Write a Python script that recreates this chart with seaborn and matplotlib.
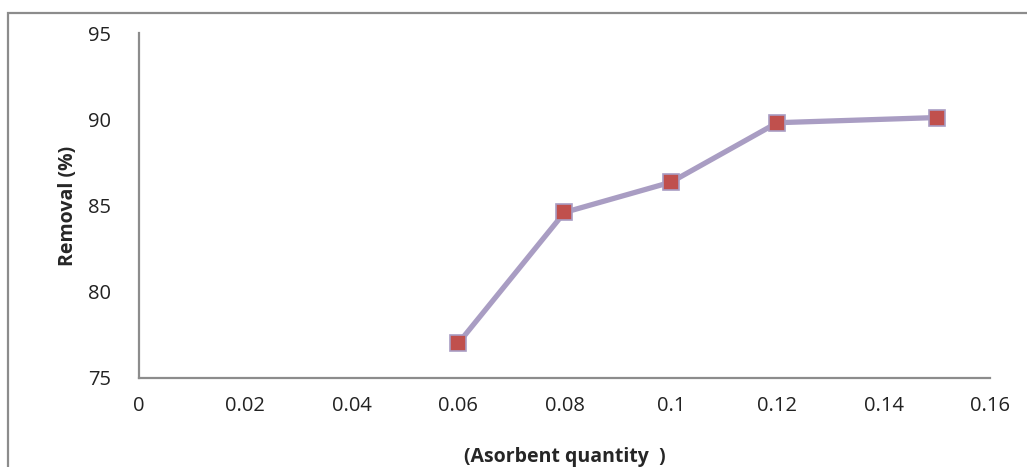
import matplotlib
matplotlib.use("Agg")
import matplotlib.pyplot as plt
import seaborn as sns
import pandas as pd
from matplotlib.patches import Rectangle

quantity = [0.06, 0.08, 0.10, 0.12, 0.15]
removal = [77.0, 84.6, 86.35, 89.8, 90.1]
x_ticks = [0, 0.02, 0.04, 0.06, 0.08, 0.1, 0.12, 0.14, 0.16]
x_tick_labels = ["0", "0.02", "0.04", "0.06", "0.08", "0.1", "0.12", "0.14", "0.16"]
y_ticks = [75, 80, 85, 90, 95]

df = pd.DataFrame({"quantity": quantity, "removal": removal})

sns.set_style("white")
plt.rcParams['font.family'] = ['Open Sans', 'DejaVu Sans']

fig = plt.figure(figsize=(10.27, 4.67), dpi=100)
ax = fig.add_axes([0.1353, 0.1906, 0.964 - 0.1353, 0.9293 - 0.1906])

sns.lineplot(data=df, x="quantity", y="removal", ax=ax, color="#A99DC3",
             linewidth=3.8, marker="s", markersize=12, markerfacecolor="#C0504D",
             markeredgecolor="#A99DC3", markeredgewidth=1.2)

ax.set_xlim(0, 0.16)
ax.set_ylim(75, 95)
ax.set_xticks(x_ticks)
ax.set_xticklabels(x_tick_labels)
ax.set_yticks(y_ticks)
ax.tick_params(axis="both", length=0, labelsize=14.5, colors="#222222")
ax.tick_params(axis="x", pad=13)
ax.tick_params(axis="y", pad=20)

for s in ["top", "right"]:
    ax.spines[s].set_visible(False)
for s in ["left", "bottom"]:
    ax.spines[s].set_color("#8C8C8C")
    ax.spines[s].set_linewidth(1.6)

ax.set_xlabel("(Asorbent quantity  )", fontsize=14, fontweight="bold", labelpad=22)
ax.set_ylabel("Removal (%)", fontsize=14, fontweight="bold", labelpad=7)

fig.patches.append(Rectangle((8 / 1027, -0.1), 1.2, 1 - 13 / 467 + 0.1,
                             transform=fig.transFigure, fill=False,
                             edgecolor="#8C8C8C", linewidth=1.6))

fig.savefig("out.png", dpi=100)
